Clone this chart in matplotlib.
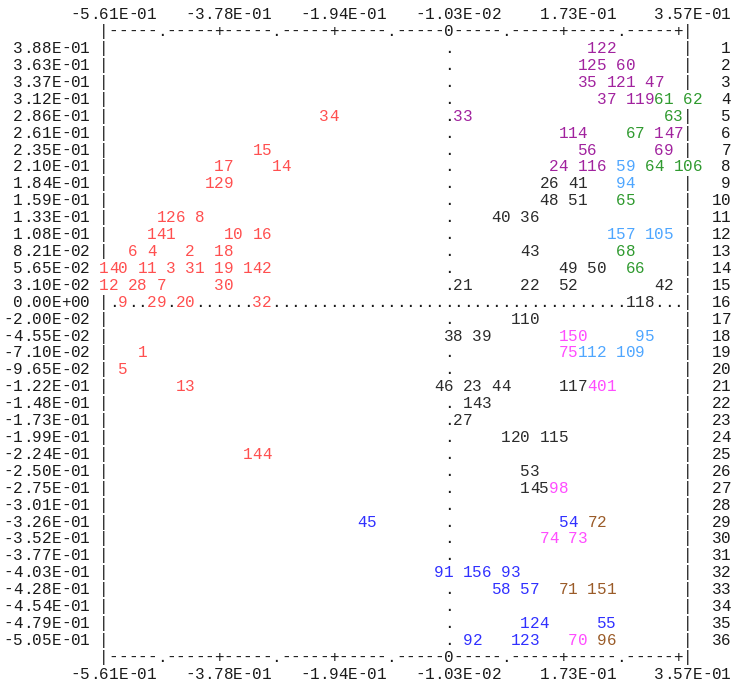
from matplotlib import pyplot as plt

# value printed at the left of each of the 36 plot rows
row_values = ['3.88E-01', '3.63E-01', '3.37E-01', '3.12E-01', '2.86E-01', '2.61E-01',
              '2.35E-01', '2.10E-01', '1.84E-01', '1.59E-01', '1.33E-01', '1.08E-01',
              '8.21E-02', '5.65E-02', '3.10E-02', '0.00E+00', '-2.00E-02', '-4.55E-02',
              '-7.10E-02', '-9.65E-02', '-1.22E-01', '-1.48E-01', '-1.73E-01', '-1.99E-01',
              '-2.24E-01', '-2.50E-01', '-2.75E-01', '-3.01E-01', '-3.26E-01', '-3.52E-01',
              '-3.77E-01', '-4.03E-01', '-4.28E-01', '-4.54E-01', '-4.79E-01', '-5.05E-01']
x_ticks = [-0.561, -0.378, -0.194, -0.0103, 0.173, 0.357]
x_tick_labels = ['-5.61E-01', '-3.78E-01', '-1.94E-01', '-1.03E-02', '1.73E-01', '3.57E-01']

# point labels per group: label, x value, plot row
red_labels = ['34', '15', '17', '14', '129', '126', '8', '141', '10', '16', '6', '4', '2', '18',
              '140', '11', '3', '31', '19', '142', '12', '28', '7', '30', '9', '29', '20', '32',
              '1', '5', '13', '144']
red_x = [-0.209, -0.316, -0.377, -0.286, -0.393, -0.469, -0.408, -0.485, -0.362, -0.316,
         -0.515, -0.485, -0.423, -0.377, -0.561, -0.500, -0.454, -0.423, -0.377, -0.332,
         -0.561, -0.515, -0.469, -0.377, -0.530, -0.485, -0.439, -0.316, -0.500, -0.530,
         -0.439, -0.332]
red_row = [5, 7, 8, 8, 9, 11, 11, 12, 12, 12, 13, 13, 13, 13, 14, 14, 14, 14, 14, 14,
           15, 15, 15, 15, 16, 16, 16, 16, 19, 20, 21, 25]

purple_labels = ['122', '125', '60', '35', '121', '47', '37', '119', '33', '114', '147',
                 '56', '69', '24', '116']
purple_x = [0.219, 0.204, 0.265, 0.204, 0.250, 0.311, 0.235, 0.281, 0.005, 0.173, 0.326,
            0.204, 0.326, 0.158, 0.204]
purple_row = [1, 2, 2, 3, 3, 3, 4, 4, 5, 6, 6, 7, 7, 8, 8]

green_labels = ['61', '62', '63', '67', '64', '106', '65', '68', '66']
green_x = [0.326, 0.372, 0.342, 0.281, 0.311, 0.357, 0.265, 0.265, 0.281]
green_row = [4, 4, 5, 6, 8, 8, 10, 13, 14]

lblue_labels = ['59', '94', '157', '105', '95', '112', '109']
lblue_x = [0.265, 0.265, 0.250, 0.311, 0.296, 0.204, 0.265]
lblue_row = [8, 9, 12, 12, 18, 19, 19]

black_labels = ['26', '41', '48', '51', '40', '36', '43', '49', '50', '21', '22', '52', '42',
                '118', '110', '38', '39', '46', '23', '44', '117', '143', '27', '120', '115',
                '53', '145']
black_x = [0.143, 0.189, 0.143, 0.189, 0.066, 0.112, 0.112, 0.173, 0.219, 0.005, 0.112,
           0.173, 0.326, 0.281, 0.097, -0.010, 0.036, -0.025, 0.020, 0.066, 0.173, 0.020,
           0.005, 0.082, 0.143, 0.112, 0.112]
black_row = [9, 9, 10, 10, 11, 11, 13, 14, 14, 15, 15, 15, 15, 16, 17, 18, 18, 21, 21, 21,
             21, 22, 23, 24, 24, 26, 27]

magenta_labels = ['150', '75', '401', '98', '74', '73', '70']
magenta_x = [0.173, 0.173, 0.219, 0.158, 0.143, 0.189, 0.189]
magenta_row = [18, 19, 21, 27, 30, 30, 36]

blue_labels = ['45', '54', '91', '156', '93', '58', '57', '124', '55', '92', '123']
blue_x = [-0.148, 0.173, -0.025, 0.020, 0.082, 0.066, 0.112, 0.112, 0.235, 0.020, 0.097]
blue_row = [29, 29, 32, 32, 32, 33, 33, 35, 35, 36, 36]

brown_labels = ['72', '71', '151', '96']
brown_x = [0.219, 0.173, 0.219, 0.235]
brown_row = [29, 33, 33, 36]

groups = [
    (red_labels, red_x, red_row, '#ff4f4f'),
    (purple_labels, purple_x, purple_row, '#a1229e'),
    (green_labels, green_x, green_row, '#2f9a2f'),
    (lblue_labels, lblue_x, lblue_row, '#4ea6ff'),
    (black_labels, black_x, black_row, '#2b2b2b'),
    (magenta_labels, magenta_x, magenta_row, '#ff4cff'),
    (blue_labels, blue_x, blue_row, '#3030ff'),
    (brown_labels, brown_x, brown_row, '#9a5b28'),
]

FRAME = '#1a1a1a'
NCOL = 60                       # plot columns between the two border bars
nrow = len(row_values)
dx = (x_ticks[-1] - x_ticks[0]) / NCOL


def col_of(x):
    return int(round((x - x_ticks[0]) / dx))


grid = {}


def put(row, col, s, color):
    for i, ch in enumerate(s):
        grid[(row, col + i)] = (ch, color)


# axis lines top and bottom, with tick labels
zero_col = int((0 - x_ticks[0]) // dx)
tick_cols = [col_of(t) for t in x_ticks]
for r in (0, nrow + 1):
    line = ''
    for c in range(NCOL + 2):
        if c == 0 or c == NCOL + 1:
            line += '|'
        elif c == zero_col:
            line += '0'
        elif c in tick_cols:
            line += '+'
        elif c % 6 == 0:
            line += '.'
        else:
            line += '-'
    put(r, 0, line, FRAME)
for r in (-1, nrow + 2):
    for c, lab in zip(tick_cols, x_tick_labels):
        put(r, c + 6 - len(lab), lab, FRAME)

# rows: value, border bars, zero line, row number
zero_row = row_values.index('0.00E+00') + 1
for r in range(1, nrow + 1):
    lab = row_values[r - 1]
    put(r, -1 - len(lab), lab, FRAME)
    put(r, 0, '|', FRAME)
    if r == zero_row:
        put(r, 1, '.' * NCOL, FRAME)
    else:
        put(r, zero_col, '.', FRAME)
    put(r, NCOL + 1, '|', FRAME)
    num = str(r)
    put(r, NCOL + 6 - len(num), num, FRAME)

for labels, xs, rows, color in groups:
    for lab, x, r in zip(labels, xs, rows):
        put(r, col_of(x), lab, color)

fig = plt.figure(figsize=(7.37, 6.86), dpi=100)
ax = fig.add_axes([0, 0, 1, 1])
ax.set_xlim(x_ticks[0] - 10.87 * dx, x_ticks[0] + 66.14 * dx)
ax.set_ylim(38.73, -1.84)
ax.axis('off')

for (r, c), (ch, color) in grid.items():
    if ch == ' ':
        continue
    ax.text(x_ticks[0] + c * dx, r + 0.3, ch, ha='center', va='baseline',
            family='Liberation Mono', fontsize=11.5, color=color)

fig.savefig('out.png', dpi=100, facecolor='white')
